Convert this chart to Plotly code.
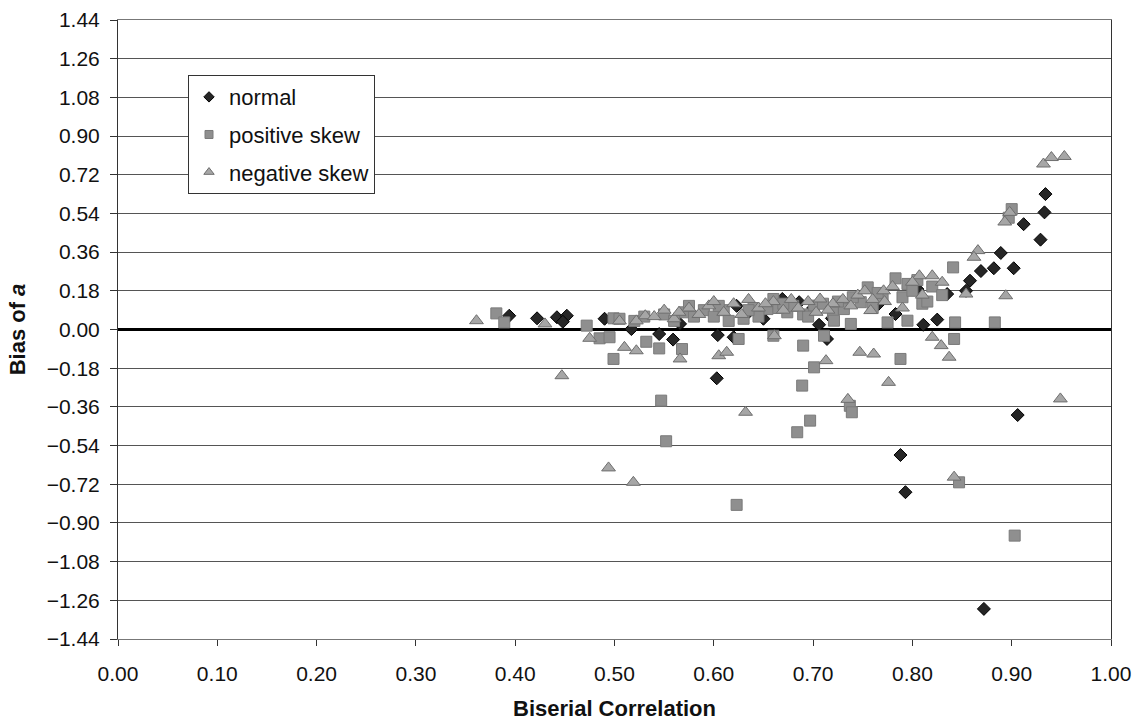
import plotly.graph_objects as go

# ---- data ----
normal_x = [0.394, 0.422, 0.442, 0.452, 0.448, 0.490, 0.517, 0.545, 0.559, 0.566,
            0.603, 0.604, 0.620, 0.623, 0.635, 0.649, 0.669, 0.686, 0.706, 0.714,
            0.719, 0.766, 0.783, 0.805, 0.811, 0.825, 0.835, 0.854, 0.858, 0.869,
            0.882, 0.889, 0.902, 0.912, 0.929, 0.933, 0.934, 0.906, 0.788, 0.793,
            0.872, 0.650, 0.700]
normal_y = [0.064, 0.052, 0.057, 0.064, 0.036, 0.050, 0.002, -0.021, -0.047, 0.026,
            -0.227, -0.026, -0.036, 0.110, 0.080, 0.083, 0.142, 0.127, 0.022, -0.044,
            0.052, 0.119, 0.072, 0.188, 0.022, 0.046, 0.165, 0.180, 0.227, 0.272,
            0.285, 0.356, 0.285, 0.490, 0.418, 0.545, 0.630, -0.398, -0.584, -0.757,
            -1.300, 0.050, 0.100]

pos_x = [0.381, 0.389, 0.472, 0.485, 0.495, 0.499, 0.499, 0.532, 0.545, 0.568,
         0.547, 0.552, 0.623, 0.625, 0.660, 0.690, 0.701, 0.711, 0.689, 0.697,
         0.684, 0.737, 0.739, 0.788, 0.843, 0.842, 0.883, 0.795, 0.847, 0.903,
         0.841, 0.900, 0.897,
         0.505, 0.520, 0.530, 0.550, 0.570, 0.590, 0.600, 0.610, 0.630, 0.640,
         0.654, 0.660, 0.674, 0.680, 0.701, 0.720, 0.721, 0.731, 0.738, 0.748,
         0.755, 0.775, 0.783, 0.795, 0.790, 0.810, 0.820, 0.830, 0.760, 0.770,
         0.560, 0.580, 0.615, 0.645, 0.665, 0.690, 0.710, 0.740, 0.765, 0.800,
         0.575, 0.605, 0.635, 0.670, 0.695, 0.725, 0.805, 0.815]
pos_y = [0.075, 0.033, 0.018, -0.041, -0.036, 0.052, -0.137, -0.057, -0.088, -0.091,
         -0.331, -0.520, -0.816, -0.044, -0.029, -0.075, -0.176, -0.029, -0.261, -0.424,
         -0.478, -0.355, -0.385, -0.137, 0.033, -0.044, 0.033, 0.041, -0.711, -0.959,
         0.289, 0.560, 0.520,
         0.050, 0.040, 0.060, 0.070, 0.080, 0.090, 0.060, 0.090, 0.050, 0.100,
         0.095, 0.142, 0.080, 0.110, 0.111, 0.080, 0.041, 0.095, 0.026, 0.127,
         0.196, 0.033, 0.238, 0.212, 0.150, 0.120, 0.200, 0.160, 0.100, 0.150,
         0.040, 0.060, 0.040, 0.060, 0.100, 0.070, 0.120, 0.150, 0.170, 0.180,
         0.110, 0.110, 0.090, 0.120, 0.060, 0.130, 0.230, 0.130]

neg_x = [0.361, 0.430, 0.447, 0.475, 0.494, 0.505, 0.510, 0.519, 0.522, 0.522,
         0.531, 0.566, 0.605, 0.613, 0.632, 0.661, 0.713, 0.735, 0.747, 0.761,
         0.776, 0.820, 0.829, 0.837, 0.842, 0.949, 0.932, 0.940, 0.953, 0.893,
         0.898, 0.866, 0.862, 0.854, 0.894, 0.771, 0.807, 0.820, 0.758, 0.707,
         0.540, 0.550, 0.560, 0.575, 0.585, 0.595, 0.610, 0.620, 0.635, 0.645,
         0.660, 0.670, 0.685, 0.695, 0.720, 0.730, 0.745, 0.760, 0.780, 0.800,
         0.810, 0.830, 0.790,
         0.565, 0.600, 0.628, 0.652, 0.678, 0.703, 0.715, 0.738, 0.752, 0.772]
neg_y = [0.041, 0.026, -0.215, -0.041, -0.644, 0.040, -0.083, -0.711, -0.099, 0.040,
         0.064, -0.137, -0.122, -0.106, -0.385, -0.029, -0.145, -0.325, -0.106, -0.114,
         -0.246, -0.036, -0.075, -0.129, -0.687, -0.323, 0.770, 0.800, 0.805, 0.500,
         0.545, 0.367, 0.336, 0.165, 0.157, 0.180, 0.250, 0.250, 0.088, 0.142,
         0.060, 0.090, 0.050, 0.100, 0.070, 0.110, 0.080, 0.120, 0.140, 0.100,
         0.130, 0.090, 0.100, 0.130, 0.120, 0.140, 0.160, 0.140, 0.200, 0.220,
         0.160, 0.220, 0.100,
         0.080, 0.130, 0.070, 0.120, 0.140, 0.080, 0.090, 0.110, 0.180, 0.130]

series_names = ["normal", "positive skew", "negative skew"]
y_ticks = [-1.44, -1.26, -1.08, -0.90, -0.72, -0.54, -0.36, -0.18, 0.0,
           0.18, 0.36, 0.54, 0.72, 0.90, 1.08, 1.26, 1.44]
x_ticks = [0.0, 0.1, 0.2, 0.3, 0.4, 0.5, 0.6, 0.7, 0.8, 0.9, 1.0]

FONT = "Liberation Sans, Arial, sans-serif"

styles = [
    dict(symbol="diamond", size=10, color="#262626", line=dict(color="#000000", width=1)),
    dict(symbol="square", size=11, color="#8f8f8f", line=dict(color="#7a7a7a", width=1)),
    dict(symbol="triangle-up", size=12, color="#a6a6a6", line=dict(color="#6e6e6e", width=1)),
]
legend_sizes = [8, 8, 9]
data_x = [normal_x, pos_x, neg_x]
data_y = [normal_y, pos_y, neg_y]

fig = go.Figure()
for i, name in enumerate(series_names):
    fig.add_trace(go.Scatter(x=data_x[i], y=data_y[i], mode="markers", name=name,
                             showlegend=False, marker=styles[i]))
for i, name in enumerate(series_names):
    st = dict(styles[i])
    st["size"] = legend_sizes[i]
    fig.add_trace(go.Scatter(x=[None], y=[None], mode="markers", name=name,
                             legendgroup="g%d" % i, marker=st))

fig.update_layout(
    width=1134, height=726,
    margin=dict(l=118, r=23, t=20, b=87),
    paper_bgcolor="white", plot_bgcolor="white",
    font=dict(family=FONT, size=21, color="#111"),
    showlegend=True,
    legend=dict(x=0.0705, y=0.911, xanchor="left", yanchor="top",
                bgcolor="white", bordercolor="#333", borderwidth=1,
                font=dict(size=22), traceorder="grouped", tracegroupgap=6,
                itemsizing="trace"),
    xaxis=dict(range=[0, 1], tickvals=x_ticks, tickformat=".2f", automargin=False,
               showgrid=False, zeroline=False, showline=True, mirror=True,
               linecolor="#777", linewidth=1, ticks="outside", ticklen=6,
               tickcolor="#333", ticklabelstandoff=10,
               title=dict(text="<b>Biserial Correlation</b>", standoff=16,
                          font=dict(size=22))),
    yaxis=dict(range=[-1.44, 1.44], tickvals=y_ticks, tickformat=".2f", automargin=False,
               showgrid=True, gridcolor="#555", gridwidth=1,
               zeroline=True, zerolinecolor="#000", zerolinewidth=3,
               showline=True, mirror=True, linecolor="#333", linewidth=1,
               ticks="outside", ticklen=7, tickcolor="#333",
               ticklabelstandoff=6,
               title=dict(text="<b>Bias of <i>a</i></b>", standoff=14,
                          font=dict(size=22))),
)

fig.write_html("out.html")
